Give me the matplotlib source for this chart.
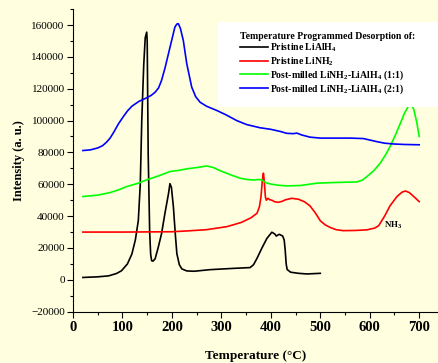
import matplotlib
matplotlib.use("Agg")
import matplotlib.pyplot as plt
from matplotlib.ticker import MultipleLocator
from matplotlib.patches import Rectangle

plt.rcParams['font.family'] = ['Liberation Serif', 'DejaVu Serif']
plt.rcParams['mathtext.fontset'] = 'custom'
plt.rcParams['mathtext.rm'] = 'Liberation Serif:bold'
plt.rcParams['mathtext.bf'] = 'Liberation Serif:bold'
plt.rcParams['mathtext.it'] = 'Liberation Serif:bold'
plt.rcParams['mathtext.default'] = 'bf'

# Pristine LiAlH4
t_alh = [20, 50, 72, 88, 98, 110, 119, 126, 132, 136, 139, 143, 146, 149, 150, 152, 155, 157, 159,
         162, 166, 172, 179, 186, 193, 196, 199, 203, 207, 210, 215, 220, 230, 245, 277, 324, 358,
         365, 372, 382, 392, 402, 408, 411, 417, 424, 427, 429, 431, 433, 440, 456, 473, 500]
i_alh = [1500, 1900, 2500, 4000, 5700, 10000, 16200, 25000, 37100, 60000, 100000, 135000, 152000,
         155500, 150000, 79000, 30000, 16000, 12000, 11800, 13200, 20000, 29000, 42000, 54000,
         60400, 58000, 45700, 28000, 16400, 9500, 6900, 5600, 5400, 6400, 7200, 7700, 9500, 13500,
         20000, 26000, 29900, 28800, 27500, 28600, 27500, 25000, 18800, 10000, 6500, 4800, 4100,
         3700, 4100]

# Pristine LiNH2
t_nh2 = [20, 100, 200, 230, 270, 311, 340, 360, 372, 377, 380, 383, 385, 387, 389, 391, 394, 398,
         402, 408, 415, 422, 429, 442, 456, 468, 479, 490, 500, 510, 520, 532, 546, 570, 594, 610,
         618, 630, 641, 655, 665, 672, 680, 689, 700]
i_nh2 = [30000, 30000, 30200, 30700, 31500, 33400, 36000, 39000, 41800, 46000, 52000, 63000, 67000,
         61000, 52000, 50000, 51200, 50300, 50000, 49000, 48700, 49200, 50200, 51200, 50600, 49000,
         46500, 42000, 37100, 34500, 32900, 31500, 30900, 31000, 31400, 32500, 34000, 40000, 46500,
         52300, 55000, 55800, 54800, 52300, 49100]

# Post-milled LiNH2-LiAlH4 (1:1)
t_11 = [20, 50, 75, 92, 109, 130, 149, 175, 196, 215, 230, 250, 270, 283, 297, 318, 338, 352, 365,
        375, 382, 390, 399, 415, 432, 459, 493, 527, 574, 585, 594, 608, 621, 632, 641, 652, 662,
        670, 678, 684, 689, 695, 700]
i_11 = [52300, 53200, 54800, 56500, 58600, 60500, 62800, 65500, 68000, 68800, 69700, 70500, 71500,
        70600, 68600, 66000, 63800, 63000, 62700, 63000, 62700, 61000, 60200, 59400, 59000, 59200,
        60700, 61100, 61500, 62600, 64800, 68500, 73200, 78500, 83700, 91000, 98400, 104500,
        109000, 110000, 107000, 99000, 90000]

# Post-milled LiNH2-LiAlH4 (2:1)
t_21 = [20, 35, 50, 60, 68, 75, 82, 92, 102, 110, 119, 133, 149, 158, 166, 173, 179, 186, 193,
        200, 206, 210, 213, 217, 223, 230, 240, 248, 257, 270, 291, 310, 331, 351, 378, 400, 420,
        432, 445, 453, 462, 479, 500, 513, 540, 560, 587, 600, 614, 630, 648, 670, 700]
i_21 = [81200, 81600, 82800, 84300, 86500, 89000, 92500, 98000, 102600, 106000, 109000, 112000,
        114300, 115800, 117800, 120500, 125200, 133000, 142000, 151000, 158700, 160600, 160800,
        158000, 150300, 135700, 121000, 115000, 111500, 109000, 106300, 103500, 100000, 97500,
        95500, 94500, 93100, 92000, 91800, 92100, 91000, 89600, 89000, 89000, 89000, 89000, 88700,
        87800, 86800, 85800, 85300, 85000, 84800]

labels = ['Pristine LiAlH$_4$', 'Pristine LiNH$_2$',
          'Post-milled LiNH$_2$-LiAlH$_4$ (1:1)', 'Post-milled LiNH$_2$-LiAlH$_4$ (2:1)']
colors = ['#000000', '#FF0000', '#00FF00', '#0000FF']

bg = '#FFFFE0'
fig = plt.figure(figsize=(4.38, 3.63), dpi=100, facecolor=bg)
ax = fig.add_axes([0.1667, 0.1413, 0.8333, 0.8337], facecolor=bg)

series = [(t_alh, i_alh), (t_nh2, i_nh2), (t_11, i_11), (t_21, i_21)]
handles = []
for (t, i), lab, c in zip(series, labels, colors):
    h, = ax.plot(t, i, color=c, lw=1.2, label=lab)
    handles.append(h)

ax.set_xlim(0, 738)
ax.set_ylim(-20000, 170000)
ax.xaxis.set_major_locator(MultipleLocator(100))
ax.xaxis.set_minor_locator(MultipleLocator(50))
ax.yaxis.set_major_locator(MultipleLocator(20000))
ax.yaxis.set_minor_locator(MultipleLocator(10000))
ax.spines['top'].set_visible(False)
ax.spines['right'].set_visible(False)
ax.tick_params(axis='both', which='major', direction='out', length=4, width=0.8)
ax.tick_params(axis='both', which='minor', direction='out', length=2.5, width=0.8)
ax.tick_params(axis='y', labelsize=8, pad=2)
ax.tick_params(axis='x', labelsize=10.5, pad=3)
for lbl in ax.get_xticklabels():
    lbl.set_fontweight('bold')

ax.set_xlabel('Temperature (°C)', fontsize=9.5, fontweight='bold', labelpad=11)
ax.set_ylabel('Intensity (a. u.)', fontsize=9, fontweight='bold', labelpad=4)

ax.text(628, 34500, 'NH$_3$', fontsize=6.5, fontweight='bold', va='center', ha='left')

W, H = 438.0, 363.0
box = Rectangle((218 / W, 1 - 107 / H), 220 / W, 85 / H, transform=fig.transFigure,
                facecolor='white', edgecolor='none', zorder=5)
fig.patches.append(box)

leg = fig.legend(handles=handles, labels=labels, loc='upper left',
                 bbox_to_anchor=(240 / W, 1 - 32 / H), bbox_transform=fig.transFigure,
                 frameon=False, title='Temperature Programmed Desorption of:',
                 prop={'size': 7, 'weight': 'bold'}, handlelength=2.9, handletextpad=0.15,
                 labelspacing=0.08, borderaxespad=0, borderpad=0)
leg.set_zorder(6)
leg.get_title().set_fontsize(7)
leg.get_title().set_fontweight('bold')
leg._legend_box.align = 'left'

fig.savefig('out.png', dpi=100, facecolor=bg)
